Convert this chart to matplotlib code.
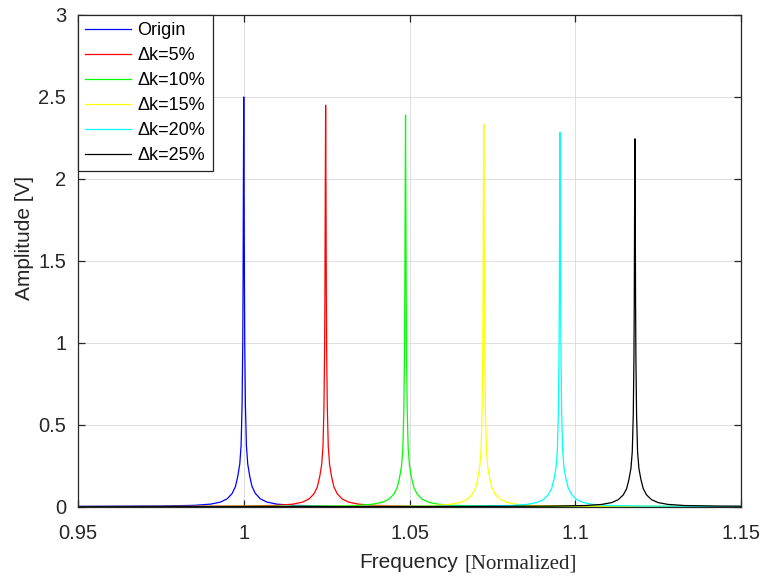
import numpy as np
import matplotlib.pyplot as plt

plt.rcParams['font.family'] = ['Liberation Sans', 'DejaVu Sans']

# Curvas de ressonância (pico)
labels = ['Origin', 'Δk=5%', 'Δk=10%', 'Δk=15%', 'Δk=20%', 'Δk=25%']
colors = ['#0000ff', '#ff0000', '#00ff00', '#ffff00', '#00ffff', '#000000']
peak_freq = [1.0, 1.0247, 1.0488, 1.0724, 1.0954, 1.1180]
peak_amp = [2.50, 2.45, 2.39, 2.335, 2.285, 2.245]

profile_offset = [0.0, 0.0001, 0.0002, 0.0003, 0.0005, 0.0008, 0.0012, 0.0018,
                  0.0025, 0.0035, 0.005, 0.007, 0.010, 0.015, 0.025, 0.05, 0.1, 0.2]
profile_rel = [1.0, 0.80, 0.55, 0.40, 0.25, 0.15, 0.105, 0.075,
               0.05, 0.033, 0.02, 0.012, 0.007, 0.004, 0.0025, 0.0015, 0.001, 0.0006]

off = np.array(profile_offset)
rel = np.array(profile_rel)
off_full = np.concatenate([-off[:0:-1], off])
rel_full = np.concatenate([rel[:0:-1], rel])

fig = plt.figure(figsize=(7.65, 5.77), dpi=100)
ax = fig.add_axes([78 / 765, 1 - 507 / 577, 663 / 765, 492 / 577])

for lab, c, f0, a in zip(labels, colors, peak_freq, peak_amp):
    ax.plot(f0 + off_full, a * rel_full, color=c, linewidth=0.9, label=lab)

ax.set_xlim(0.95, 1.15)
ax.set_ylim(0, 3)
ax.set_xticks([0.95, 1.0, 1.05, 1.1, 1.15])
ax.set_xticklabels(['0.95', '1', '1.05', '1.1', '1.15'])
ax.set_yticks([0, 0.5, 1, 1.5, 2, 2.5, 3])
ax.set_yticklabels(['0', '0.5', '1', '1.5', '2', '2.5', '3'])

# Estilo tipo MATLAB
ax.grid(color='#dedede', linewidth=0.7)
ax.set_axisbelow(True)
for s in ax.spines.values():
    s.set_color('#262626')
    s.set_linewidth(0.9)
ax.tick_params(direction='in', length=5, width=0.9, colors='#262626',
               labelsize=14.5, top=True, right=True)
ax.tick_params(axis='x', pad=12.5)
ax.tick_params(axis='y', pad=8.5)

ax.set_ylabel('Amplitude [V]', fontsize=15, color='#262626')
ax.yaxis.set_label_coords(-0.066, 0.547)

# Rótulo do eixo x: parte sans + parte serif
fig.text(408.5 / 765, 1 - 568 / 577, 'Frequency', fontsize=15,
         color='#262626', ha='center', va='baseline')
fig.text(465 / 765, 1 - 568 / 577, '[Normalized]', fontsize=15,
         family='Liberation Serif', color='#262626', ha='left', va='baseline')

leg = ax.legend(loc='upper left', bbox_to_anchor=(0, 1), borderaxespad=0,
                fontsize=13, handlelength=2.55, handletextpad=0.35,
                labelspacing=0.44, borderpad=0.4, fancybox=False, framealpha=1)
leg.get_frame().set_edgecolor('#262626')
leg.get_frame().set_linewidth(0.9)

plt.savefig('out.png', dpi=100)
plt.close()
